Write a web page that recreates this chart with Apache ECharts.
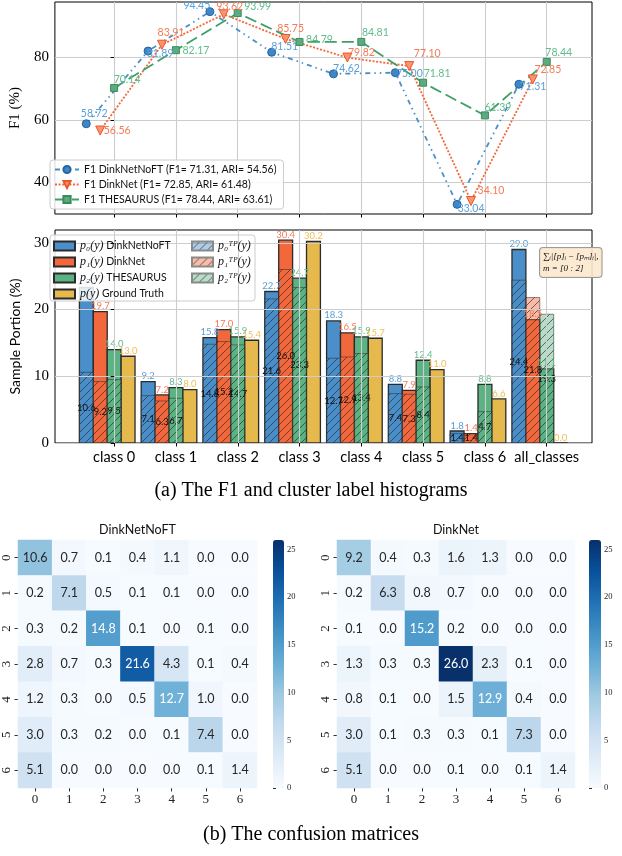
<!DOCTYPE html>
<html>
<head>
<meta charset="utf-8">
<script src="https://cdn.jsdelivr.net/npm/echarts@6/dist/echarts.min.js"></script>
<style>
  html, body { margin: 0; background: #fff; }
  #main { width: 622px; height: 856px; }
</style>
</head>
<body>
<div id="main"></div>
<script>
// ---- data ----
const classes = ['class 0', 'class 1', 'class 2', 'class 3', 'class 4', 'class 5', 'class 6', 'all_classes'];

const f1NoFT = [58.72, 81.89, 94.45, 81.51, 74.62, 75.00, 33.04, 71.31];
const f1Dink = [56.56, 83.91, 93.62, 85.75, 79.82, 77.10, 34.10, 72.85];
const f1Thes = [70.14, 82.17, 93.99, 84.79, 84.81, 71.81, 61.39, 78.44];

const pNoFT  = [23.3, 9.2, 15.8, 22.7, 18.3, 8.8, 1.8, 29.0];
const pDink  = [19.7, 7.2, 17.0, 30.4, 16.5, 7.9, 1.4, 18.5];
const pThes  = [14.0, 8.3, 15.9, 24.7, 15.9, 12.4, 8.8, 11.1];
const pTruth = [13.0, 8.0, 15.4, 30.2, 15.7, 11.0, 6.6, 0.0];

const tpNoFT = [10.6, 7.1, 14.8, 21.6, 12.7, 7.4, 1.4, 24.4];
const tpDink = [9.2, 6.3, 15.2, 26.0, 12.9, 7.3, 1.4, 21.8];
const tpThes = [9.5, 6.7, 14.7, 23.3, 13.4, 8.4, 4.7, 19.3];

const cmLabels = ['0', '1', '2', '3', '4', '5', '6'];
const cmNoFT = [
  [10.6, 0.7, 0.1, 0.4, 1.1, 0.0, 0.0],
  [0.2, 7.1, 0.5, 0.1, 0.1, 0.0, 0.0],
  [0.3, 0.2, 14.8, 0.1, 0.0, 0.1, 0.0],
  [2.8, 0.7, 0.3, 21.6, 4.3, 0.1, 0.4],
  [1.2, 0.3, 0.0, 0.5, 12.7, 1.0, 0.0],
  [3.0, 0.3, 0.2, 0.0, 0.1, 7.4, 0.0],
  [5.1, 0.0, 0.0, 0.0, 0.0, 0.1, 1.4]
];
const cmDink = [
  [9.2, 0.4, 0.3, 1.6, 1.3, 0.0, 0.0],
  [0.2, 6.3, 0.8, 0.7, 0.0, 0.0, 0.0],
  [0.1, 0.0, 15.2, 0.2, 0.0, 0.0, 0.0],
  [1.3, 0.3, 0.3, 26.0, 2.3, 0.1, 0.0],
  [0.8, 0.1, 0.0, 1.5, 12.9, 0.4, 0.0],
  [3.0, 0.1, 0.3, 0.3, 0.1, 7.3, 0.0],
  [5.1, 0.0, 0.0, 0.1, 0.0, 0.1, 1.4]
];

const f1Ticks = [40, 60, 80];
const pTicks = [0, 10, 20, 30];
const cbTicks = [0, 5, 10, 15, 20, 25];
const cbMax = 26;

// label offsets (px) for the F1 point labels, relative to the marker
const offNoFT = [[8, -10], [12, 3], [-13, -6], [13, -6], [13, -5], [14, 1], [14, 4], [14, 2]];
const offDink = [[17, 0], [9, -12], [6, -8], [5, -10], [14, -5], [18, -12], [20, -10], [15, -10]];
const offThes = [[13, -8], [20, 0], [20, -6], [20, -2], [14, -9], [14, -9], [13, -8], [12, -9]];

// ---- layout / style ----
const BW = 0.225;                 // bar width in category units
const SLOT = [-2, -1, 0, 1];      // bar slot per series
const lo = -2.5 * BW, hi = classes.length - 1 + 1.5 * BW;
const xMin = lo - 0.05 * (hi - lo), xMax = hi + 0.05 * (hi - lo);
const idx = classes.map((c, i) => i);

const allF1 = f1NoFT.concat(f1Dink, f1Thes);
const f1Lo = Math.min(...allF1), f1Hi = Math.max(...allF1);
const f1Min = f1Lo - 0.05 * (f1Hi - f1Lo), f1Max = f1Hi + 0.05 * (f1Hi - f1Lo);
const pMax = Math.max(...pNoFT, ...pDink, ...pThes, ...pTruth) * 1.05;

const C = {
  blue: '#4a8fc9', orange: '#f2683c', green: '#5bb383', yellow: '#e6b94c',
  blueL: '#5aa0d8', orangeL: '#f47b57', greenL: '#63bb8d', yellowL: '#f0bd55'
};
const SANS = 'Lato';
const SERIF = 'Liberation Serif';
const BLUES = ['#f7fbff', '#deebf7', '#c6dbef', '#9ecae1', '#6baed6', '#4292c6', '#2171b5', '#08519c', '#08306b'];

function hatch(bg) {
  const c = document.createElement('canvas');
  c.width = 8; c.height = 8;
  const g = c.getContext('2d');
  if (bg) { g.fillStyle = bg; g.fillRect(0, 0, 8, 8); }
  g.strokeStyle = 'rgba(35,35,35,0.7)';
  g.lineWidth = 0.9;
  g.beginPath();
  g.moveTo(0, 8); g.lineTo(8, 0);
  g.moveTo(-2, 2); g.lineTo(2, -2);
  g.moveTo(6, 10); g.lineTo(10, 6);
  g.stroke();
  return { image: c, repeat: 'repeat' };
}
function rgba(hex, a) {
  const n = parseInt(hex.slice(1), 16);
  return 'rgba(' + (n >> 16) + ',' + ((n >> 8) & 255) + ',' + (n & 255) + ',' + a + ')';
}

function lineSeries(name, vals, slot, offs, color, labelColor, symbol, size, rotate, dash, fill, edge) {
  return {
    type: 'line', name: name, xAxisIndex: 0, yAxisIndex: 0,
    data: vals.map((v, i) => ({ value: [i + slot * BW, v], label: { offset: offs[i] } })),
    symbol: symbol, symbolSize: size, symbolRotate: rotate,
    lineStyle: { color: color, width: 1.8, type: dash },
    itemStyle: { color: fill, borderColor: edge, borderWidth: 1 },
    label: {
      show: true, position: 'inside', color: labelColor,
      fontFamily: SANS, fontSize: 10.5,
      formatter: p => p.value[1].toFixed(2)
    },
    silent: true, z: 3
  };
}

function barSeries(name, vals, slot, fill, labelColor, tp) {
  return {
    type: 'custom', name: name, xAxisIndex: 1, yAxisIndex: 1,
    data: vals.map((v, i) => [i, v]),
    encode: { x: 0, y: 1 },
    itemStyle: { color: fill, borderColor: tp ? '#8a8a8a' : '#2b2b2b', borderWidth: 1 },
    silent: true, clip: false,
    renderItem: function (params, api) {
      const cx = api.value(0) + slot * BW;
      const v = api.value(1);
      const tl = api.coord([cx - BW / 2, v]);
      const br = api.coord([cx + BW / 2, 0]);
      const mid = (tl[0] + br[0]) / 2;
      const kids = [{
        type: 'rect',
        shape: { x: tl[0], y: tl[1], width: br[0] - tl[0], height: br[1] - tl[1] },
        style: { fill: fill, stroke: tp ? 'rgba(50,50,50,0.55)' : '#2b2b2b', lineWidth: tp ? 1 : 1.3 }
      }];
      if (tp) {
        kids.push({
          type: 'text', z2: 10, x: mid, y: (tl[1] + br[1]) / 2,
          style: { text: v.toFixed(1), fill: '#111', font: '9.5px ' + SANS, align: 'center', verticalAlign: 'middle' }
        });
      } else {
        kids.push({
          type: 'text', z2: 10, x: mid, y: tl[1] - 0.5,
          style: { text: v.toFixed(1), fill: labelColor, font: '9.5px ' + SANS, align: 'center', verticalAlign: 'bottom' }
        });
      }
      return { type: 'group', children: kids };
    }
  };
}

function cells(m) {
  const out = [];
  m.forEach((row, r) => row.forEach((v, c) => out.push([c, r, v])));
  return out;
}
function heatSeries(m, k) {
  return {
    type: 'heatmap', xAxisIndex: k, yAxisIndex: k, data: cells(m), silent: true,
    label: {
      show: true,
      formatter: p => (p.value[2] > 11.5 ? '{w|' : '{d|') + p.value[2].toFixed(1) + '}',
      rich: {
        w: { color: '#ffffff', fontFamily: SANS, fontSize: 12.5 },
        d: { color: '#262626', fontFamily: SANS, fontSize: 12.5 }
      }
    },
    emphasis: { disabled: true }
  };
}

const TP_LABEL = ['p\u2080\u1D40\u1D3E(y)', 'p\u2081\u1D40\u1D3E(y)', 'p\u2082\u1D40\u1D3E(y)'];
const P_LABEL = ['p\u2080(y)', 'p\u2081(y)', 'p\u2082(y)', 'p(y)'];
const P_NAME = ['DinkNetNoFT', 'DinkNet', 'THESAURUS', 'Ground Truth'];
const barNames = ['p0', 'p1', 'p2', 'pgt'];
const tpNames = ['p0tp', 'p1tp', 'p2tp'];

const lineNames = [
  'F1 DinkNetNoFT (F1= 71.31, ARI= 54.56)',
  'F1 DinkNet (F1= 72.85, ARI= 61.48)',
  'F1 THESAURUS (F1= 78.44, ARI= 63.61)'
];

const gridLine = { show: true, lineStyle: { color: '#cdcdcd', width: 1.1 } };
const tickStyle = { show: true, length: 3.5, lineStyle: { color: '#000', width: 1 } };

function classAxis(k, showLabels) {
  return {
    type: 'value', gridIndex: k, min: xMin, max: xMax, z: 3,
    axisLine: { show: false },
    axisTick: Object.assign({ customValues: idx }, tickStyle),
    axisLabel: {
      show: showLabels, customValues: idx, margin: 7,
      fontFamily: SANS, fontSize: 14.5, color: '#000',
      formatter: v => classes[Math.round(v)]
    },
    splitLine: Object.assign({ customValues: idx }, gridLine)
  };
}
function catAxis(k, isY) {
  return {
    type: 'category', gridIndex: k, data: cmLabels, inverse: !!isY,
    axisLine: { show: false },
    axisTick: { show: true, alignWithLabel: true, length: 3.5, lineStyle: { color: '#333' } },
    axisLabel: { fontFamily: SERIF, fontSize: 13, color: '#222', margin: 5, rotate: isY ? 90 : 0 },
    splitLine: { show: false }, splitArea: { show: false }
  };
}
function cbAxis(k) {
  return {
    type: 'value', gridIndex: k, min: 0, max: cbMax, position: 'right',
    axisLine: { show: false },
    axisTick: { show: true, customValues: cbTicks, length: 3, lineStyle: { color: '#333' } },
    axisLabel: { customValues: cbTicks, fontFamily: SERIF, fontSize: 8.5, color: '#222', margin: 3 },
    splitLine: { show: false }
  };
}
function colorbar(seriesIndex, left, width) {
  return {
    type: 'continuous', seriesIndex: seriesIndex, min: 0, max: cbMax, inRange: { color: BLUES },
    left: left, top: 540, itemWidth: width, itemHeight: 248, padding: 0,
    calculable: false, hoverLink: false, text: ['', ''],
    formatter: () => '', textStyle: { color: 'rgba(0,0,0,0)', fontSize: 1 }
  };
}

const option = {
  animation: false,
  backgroundColor: '#fff',
  grid: [
    { left: 44, top: 2, width: 548, height: 212, show: true, borderColor: '#000', borderWidth: 1 },
    { left: 44, top: 230, width: 548, height: 213, show: true, borderColor: '#000', borderWidth: 1 },
    { left: 18, top: 540, width: 239, height: 248 },
    { left: 337, top: 540, width: 238, height: 248 },
    { left: 273, top: 540, width: 11, height: 248 },
    { left: 589, top: 540, width: 12, height: 248 }
  ],
  xAxis: [
    classAxis(0, false),
    classAxis(1, true),
    catAxis(2, false),
    catAxis(3, false),
    { type: 'value', gridIndex: 4, show: false },
    { type: 'value', gridIndex: 5, show: false }
  ],
  yAxis: [
    {
      type: 'value', gridIndex: 0, min: f1Min, max: f1Max,
      axisLine: { show: false },
      axisTick: Object.assign({ customValues: f1Ticks }, tickStyle),
      axisLabel: { customValues: f1Ticks, fontFamily: SERIF, fontSize: 15, color: '#000', margin: 6 },
      splitLine: Object.assign({ customValues: f1Ticks }, gridLine),
      name: 'F1 (%)', nameLocation: 'middle', nameGap: 31, nameRotate: 90,
      nameTextStyle: { fontFamily: SERIF, fontSize: 15, color: '#000' }
    },
    {
      type: 'value', gridIndex: 1, min: 0, max: pMax, z: 3,
      axisLine: { show: false },
      axisTick: Object.assign({ customValues: pTicks }, tickStyle),
      axisLabel: { customValues: pTicks, fontFamily: SERIF, fontSize: 15, color: '#000', margin: 6 },
      splitLine: Object.assign({ customValues: pTicks }, gridLine),
      name: 'Sample Portion (%)', nameLocation: 'middle', nameGap: 33, nameRotate: 90,
      nameTextStyle: { fontFamily: SANS, fontSize: 14, color: '#000' }
    },
    catAxis(2, true),
    catAxis(3, true),
    cbAxis(4),
    cbAxis(5)
  ],
  visualMap: [colorbar(10, 273, 11), colorbar(11, 589, 12)],
  legend: [
    {
      data: lineNames, orient: 'vertical', left: 50, top: 160, selectedMode: false,
      itemWidth: 24, itemHeight: 9, itemGap: 4,
      backgroundColor: 'rgba(255,255,255,0.85)', borderColor: '#cccccc', borderWidth: 1, borderRadius: 3,
      padding: [4, 7, 4, 4],
      textStyle: { fontFamily: SANS, fontSize: 10.5, color: '#111', lineHeight: 11 }
    },
    {
      data: barNames.map(n => ({ name: n, icon: 'rect' })), orient: 'vertical', left: 53, top: 240,
      selectedMode: false, itemWidth: 21, itemHeight: 9, itemGap: 4, padding: 0,
      formatter: n => { const k = barNames.indexOf(n); return '{m|' + P_LABEL[k] + '} ' + P_NAME[k]; },
      textStyle: { fontFamily: SANS, fontSize: 10.5, color: '#111', lineHeight: 11.5,
        rich: { m: { fontFamily: SERIF, fontStyle: 'italic', fontSize: 12, lineHeight: 11.5 } } }
    },
    {
      data: tpNames.map(n => ({ name: n, icon: 'rect' })), orient: 'vertical', left: 191, top: 240,
      selectedMode: false, itemWidth: 21, itemHeight: 9, itemGap: 4, padding: 0,
      formatter: n => '{m|' + TP_LABEL[tpNames.indexOf(n)] + '}',
      textStyle: { fontFamily: SANS, fontSize: 10.5, color: '#111', lineHeight: 11.5,
        rich: { m: { fontFamily: SERIF, fontStyle: 'italic', fontSize: 12, lineHeight: 11.5 } } }
    }
  ],
  graphic: [
    { type: 'rect', z: 3, shape: { x: 50, y: 235, width: 205, height: 66, r: 3 },
      style: { fill: 'rgba(255,255,255,0.85)', stroke: '#cccccc', lineWidth: 1 }, silent: true },
    { type: 'text', z: 5, x: 540, y: 248, silent: true,
      style: { text: '\u2211\u1D62|[p]\u1D62\u2009\u2212\u2009[p\u2098]\u1D62|,\nm = [0 : 2]',
        font: 'italic 9px ' + SERIF, fill: '#111', lineHeight: 11.5,
        backgroundColor: 'rgba(252,232,205,0.9)', borderColor: '#9a9a9a', borderWidth: 1,
        borderRadius: 3, padding: [3, 3, 3, 3] } },
    { type: 'text', x: 311, y: 491, silent: true,
      style: { text: '(a) The F1 and cluster label histograms', font: '20px ' + SERIF, fill: '#000', align: 'center', verticalAlign: 'middle' } },
    { type: 'text', x: 137.5, y: 530, silent: true,
      style: { text: 'DinkNetNoFT', font: '12.5px ' + SANS, fill: '#111', align: 'center', verticalAlign: 'middle' } },
    { type: 'text', x: 456, y: 530, silent: true,
      style: { text: 'DinkNet', font: '12.5px ' + SANS, fill: '#111', align: 'center', verticalAlign: 'middle' } },
    { type: 'text', x: 311, y: 835, silent: true,
      style: { text: '(b) The confusion matrices', font: '20px ' + SERIF, fill: '#000', align: 'center', verticalAlign: 'middle' } }
  ],
  series: [
    lineSeries(lineNames[0], f1NoFT, SLOT[0], offNoFT, C.blue, C.blueL, 'circle', 8, 0, [5, 4, 1.5, 4, 1.5, 4], '#3f86c8', '#23649f'),
    lineSeries(lineNames[1], f1Dink, SLOT[1], offDink, C.orange, C.orangeL, 'triangle', 9, 180, [2, 1.6], '#f79573', '#ee5526'),
    lineSeries(lineNames[2], f1Thes, SLOT[2], offThes, '#3f9f69', C.greenL, 'rect', 7, 0, [12, 5], '#5aac7e', '#3b8a5c'),
    barSeries(barNames[0], pNoFT, SLOT[0], C.blue, C.blueL, false),
    barSeries(barNames[1], pDink, SLOT[1], C.orange, C.orangeL, false),
    barSeries(barNames[2], pThes, SLOT[2], C.green, C.greenL, false),
    barSeries(barNames[3], pTruth, SLOT[3], C.yellow, C.yellowL, false),
    barSeries(tpNames[0], tpNoFT, SLOT[0], hatch(rgba(C.blue, 0.45)), null, true),
    barSeries(tpNames[1], tpDink, SLOT[1], hatch(rgba(C.orange, 0.45)), null, true),
    barSeries(tpNames[2], tpThes, SLOT[2], hatch(rgba(C.green, 0.45)), null, true),
    heatSeries(cmNoFT, 2),
    heatSeries(cmDink, 3)
  ]
};

const chart = echarts.init(document.getElementById('main'), null, { renderer: 'canvas' });
chart.setOption(option);
window.addEventListener('resize', chart.resize);
</script>
</body>
</html>
